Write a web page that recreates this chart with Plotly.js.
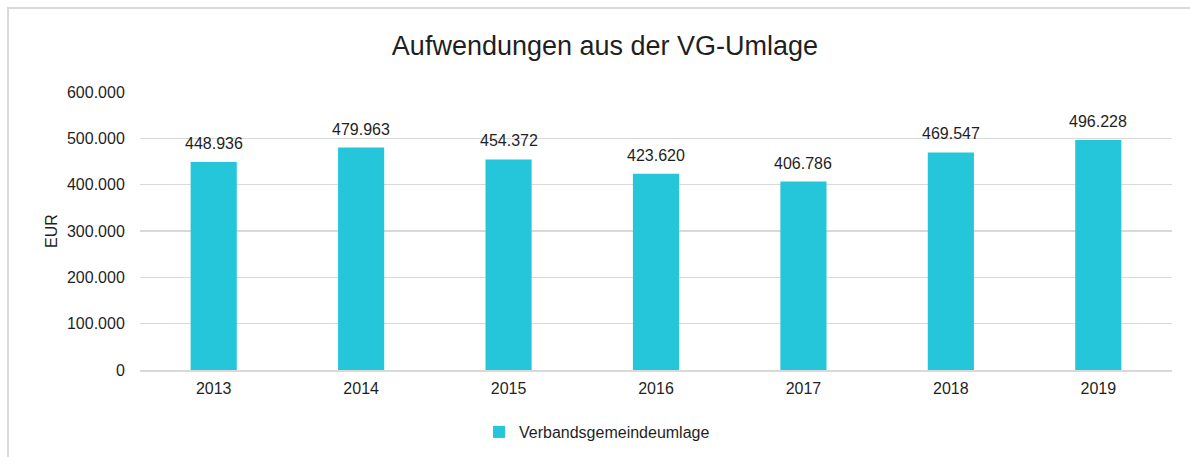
<!DOCTYPE html>
<html>
<head>
<meta charset="utf-8">
<script src="https://cdn.plot.ly/plotly-3.0.1.min.js"></script>
<style>
  html, body { margin: 0; padding: 0; background: #fff; overflow: hidden; }
  #chart { position: absolute; left: 0; top: 0; width: 1190px; height: 457px; }
  #frame { position: absolute; left: 7px; top: 7px; width: 1300px; height: 600px;
           border: 2px solid #d9d9d9; pointer-events: none; z-index: 10; box-sizing: border-box; }
</style>
</head>
<body>
<div id="chart"></div>
<div id="frame"></div>
<script>
const years = ['2013', '2014', '2015', '2016', '2017', '2018', '2019'];
const umlage = [448936, 479963, 454372, 423620, 406786, 469547, 496228];
const seriesName = 'Verbandsgemeindeumlage';
const yTicks = [0, 100000, 200000, 300000, 400000, 500000, 600000];

function fmt(v) {
  return String(Math.round(v)).replace(/\B(?=(\d{3})+(?!\d))/g, '.');
}

const font = 'Liberation Sans, Arial, sans-serif';
const txt = '#1f1f1f';
const idx = years.map((_, i) => i);

const trace = {
  type: 'bar',
  x: idx,
  y: umlage,
  width: 0.313,
  name: seriesName,
  marker: { color: '#26C6DA' },
  hoverinfo: 'none',
  showlegend: true
};

const annotations = idx.map(i => ({
  x: i, y: umlage[i], xref: 'x', yref: 'y',
  text: fmt(umlage[i]), showarrow: false,
  yanchor: 'bottom', yshift: 8,
  font: { family: font, size: 16, color: txt }
}));

const layout = {
  width: 1190, height: 457,
  margin: { l: 140, r: 18, t: 92, b: 87 },
  paper_bgcolor: '#fff', plot_bgcolor: '#fff',
  title: {
    text: 'Aufwendungen aus der VG-Umlage',
    font: { family: font, size: 27, color: txt },
    x: 605 / 1190, xanchor: 'center', xref: 'container',
    y: 1 - 46 / 457, yanchor: 'middle', yref: 'container'
  },
  xaxis: {
    type: 'linear',
    range: [-0.5, years.length - 0.5],
    tickvals: idx,
    ticktext: years,
    showgrid: false, zeroline: false,
    showline: true, linecolor: '#d9d9d9', linewidth: 2,
    ticks: 'outside', ticklen: 3, tickcolor: 'rgba(0,0,0,0)',
    tickfont: { family: font, size: 16, color: txt }
  },
  yaxis: {
    type: 'linear',
    range: [0, 600000],
    tickvals: yTicks,
    ticktext: yTicks.map(fmt),
    showgrid: true, gridcolor: '#d9d9d9', gridwidth: 1.5,
    zeroline: false, showline: false,
    ticks: 'outside', ticklen: 11, tickcolor: 'rgba(0,0,0,0)',
    tickfont: { family: font, size: 16, color: txt },
    title: { text: 'EUR', font: { family: font, size: 16, color: txt }, standoff: 5 }
  },
  legend: {
    orientation: 'h',
    x: 479 / 1190, xanchor: 'left', xref: 'container',
    y: 1 - 432 / 457, yanchor: 'middle', yref: 'container',
    font: { family: font, size: 16, color: txt }
  },
  annotations: annotations,
  showlegend: true
};

Plotly.newPlot('chart', [trace], layout, { displayModeBar: false, staticPlot: true });
</script>
</body>
</html>
